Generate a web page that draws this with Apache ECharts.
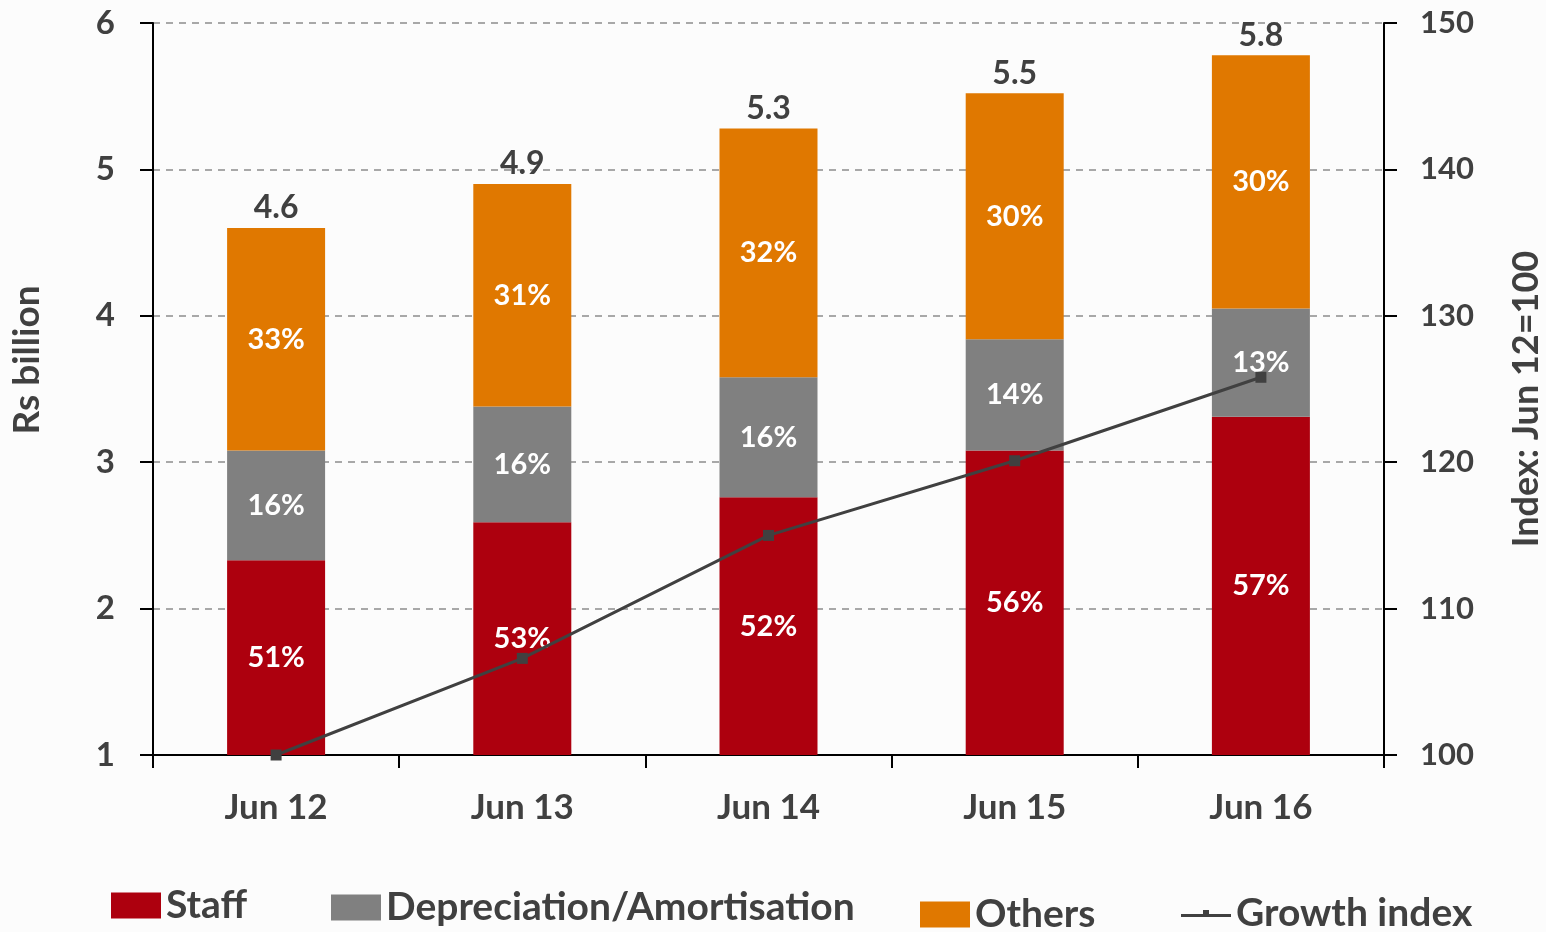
<!DOCTYPE html>
<html>
<head>
<meta charset="utf-8">
<script src="https://cdn.jsdelivr.net/npm/echarts@6/dist/echarts.min.js"></script>
<style>
html,body{margin:0;padding:0;background:#fcfcfc;}
#chart{width:1546px;height:932px;}
</style>
</head>
<body>
<div id="chart"></div>
<script>
const categories = ['Jun 12', 'Jun 13', 'Jun 14', 'Jun 15', 'Jun 16'];
const staff = [2.33, 2.59, 2.76, 3.08, 3.31];
const depreciation = [0.75, 0.79, 0.82, 0.76, 0.74];
const others = [1.52, 1.52, 1.70, 1.68, 1.73];
const totals = ['4.6', '4.9', '5.3', '5.5', '5.8'];
const staffPct = ['51%', '53%', '52%', '56%', '57%'];
const depPct = ['16%', '16%', '16%', '14%', '13%'];
const othersPct = ['33%', '31%', '32%', '30%', '30%'];
const growthIndex = [100, 106.6, 115.0, 120.1, 125.8];
const leftTicks = [1, 2, 3, 4, 5, 6];
const rightTicks = [100, 110, 120, 130, 140, 150];

const FONT = 'Lato';
const TXT = '#404040';
const chart = echarts.init(document.getElementById('chart'), null, {renderer: 'canvas'});

const pctLabel = (arr) => ({
  show: true, position: 'inside', color: '#ffffff', fontFamily: FONT, fontWeight: 'bold', fontSize: 29,
  formatter: p => arr[p.dataIndex]
});

const legendBase = {
  orient: 'horizontal', itemWidth: 50, itemHeight: 26, itemGap: 6,
  textStyle: {color: TXT, fontFamily: FONT, fontWeight: 'bold', fontSize: 39}
};

chart.setOption({
  backgroundColor: '#fcfcfc',
  animation: false,
  grid: {left: 153, right: 162, top: 23, bottom: 177, containLabel: false, outerBoundsMode: 'none'},
  legend: [
    Object.assign({}, legendBase, {data: [{name: 'Staff', icon: 'rect'}], left: 106, top: 881}),
    Object.assign({}, legendBase, {data: [{name: 'Depreciation/Amortisation', icon: 'rect'}], left: 326, top: 883}),
    Object.assign({}, legendBase, {data: [{name: 'Others', icon: 'rect'}], left: 915, top: 890}),
    Object.assign({}, legendBase, {data: [{name: 'Growth index', icon: 'path://M0,12 L22,12 L22,8 L28,8 L28,12 L50,12 L50,15 L0,15 Z'}], left: 1176, top: 889, itemHeight: 14})
  ],
  xAxis: {
    type: 'category', data: categories, boundaryGap: true,
    axisLine: {show: true, lineStyle: {color: '#000', width: 2}},
    axisTick: {show: true, length: 13, inside: false, lineStyle: {color: '#000', width: 2}},
    axisLabel: {color: TXT, fontFamily: FONT, fontWeight: 'bold', fontSize: 35, margin: 35}
  },
  yAxis: [
    {
      type: 'value', min: leftTicks[0], max: leftTicks[leftTicks.length - 1], interval: 1,
      name: 'Rs billion', nameLocation: 'middle', nameGap: 107, nameRotate: 90,
      nameTextStyle: {color: TXT, fontFamily: FONT, fontWeight: 'bold', fontSize: 37, padding: [0, 0, 0, 58]},
      axisLine: {show: true, lineStyle: {color: '#000', width: 2}},
      axisTick: {show: true, length: 13, lineStyle: {color: '#000', width: 2}},
      axisLabel: {color: TXT, fontFamily: FONT, fontWeight: 'bold', fontSize: 33, margin: 38},
      splitLine: {show: true, lineStyle: {color: '#8c8c8c', type: [7, 6], width: 1.5}}
    },
    {
      type: 'value', min: rightTicks[0], max: rightTicks[rightTicks.length - 1], interval: 10,
      name: 'Index: Jun 12=100', nameLocation: 'middle', nameGap: 124, nameRotate: 90,
      nameTextStyle: {color: TXT, fontFamily: FONT, fontWeight: 'bold', fontSize: 36, padding: [0, 20, 0, 0]},
      axisLine: {show: true, lineStyle: {color: '#000', width: 2}},
      axisTick: {show: true, length: 13, lineStyle: {color: '#000', width: 2}},
      axisLabel: {color: TXT, fontFamily: FONT, fontWeight: 'bold', fontSize: 31, margin: 36},
      splitLine: {show: false}
    }
  ],
  series: [
    {name: 'Staff', type: 'bar', stack: 'total', data: staff, barWidth: 98, clip: true,
     itemStyle: {color: '#AD000E'}, label: pctLabel(staffPct)},
    {name: 'Depreciation/Amortisation', type: 'bar', stack: 'total', data: depreciation, clip: true,
     itemStyle: {color: '#808080'}, label: pctLabel(depPct)},
    {name: 'Others', type: 'bar', stack: 'total', data: others, clip: true,
     itemStyle: {color: '#E07800'}, label: pctLabel(othersPct)},
    {name: 'Total', type: 'bar', stack: 'total', data: others.map(() => 0), clip: true,
     itemStyle: {color: 'transparent'},
     label: {show: true, position: 'top', distance: 4, color: TXT, fontFamily: FONT, fontWeight: 'bold', fontSize: 32,
             formatter: p => totals[p.dataIndex]}},
    {name: 'Growth index', type: 'line', yAxisIndex: 1, data: growthIndex,
     symbol: 'rect', symbolSize: 11, lineStyle: {color: '#404040', width: 3},
     itemStyle: {color: '#404040'}, z: 5}
  ]
});
</script>
</body>
</html>
